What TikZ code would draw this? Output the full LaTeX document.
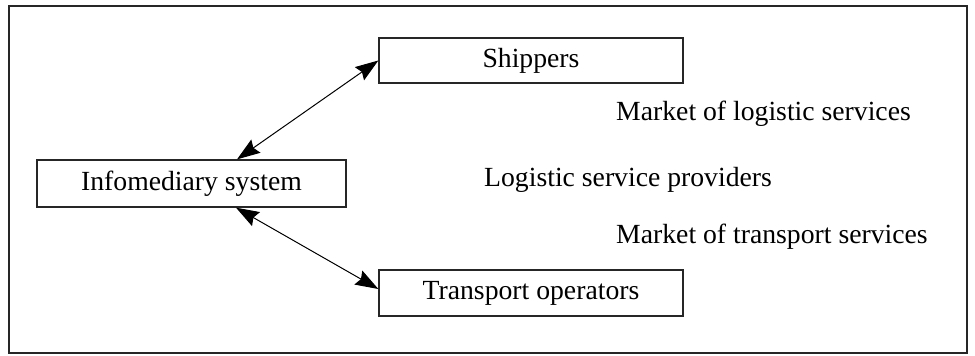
\documentclass[tikz,border=0pt]{standalone}
\usepackage{fontspec}
\setmainfont{Liberation Serif}
\usetikzlibrary{arrows.meta}
\begin{document}
\begin{tikzpicture}[x=1pt,y=-1pt,
  every node/.style={font=\fontsize{27.7}{33}\selectfont, inner sep=0pt},
  boxnode/.style={draw=black!85, line width=1.3pt, anchor=center},
  label/.style={anchor=base west},
  link/.style={line width=1pt, {Stealth[length=23pt,width=16pt,inset=3pt]}-{Stealth[length=23pt,width=16pt,inset=3pt]}}]
\useasboundingbox (0,0) rectangle (975,356);
\draw[line width=2.2pt, draw=black!85] (9,6) rectangle (967,353);
\node[boxnode, minimum width=304pt, minimum height=45pt] (ship) at (531,60.5) {\raisebox{-1pt}{Shippers}};
\node[boxnode, minimum width=309pt, minimum height=47pt] (info) at (191.5,183.5) {Infomediary system};
\node[boxnode, minimum width=304pt, minimum height=46pt] (trans) at (531,293) {Transport operators};
\node[label] (mls) at (616,120.5) {Market of logistic services};
\node[label] (lsp) at (484,186) {Logistic service providers};
\node[label] (mts) at (616,243) {Market of transport services};
\draw[link] ([xshift=45.5pt]info.north) -- (ship.west);
\draw[link] ([xshift=44.5pt]info.south) -- ([yshift=4pt]trans.west);
\end{tikzpicture}
\end{document}
